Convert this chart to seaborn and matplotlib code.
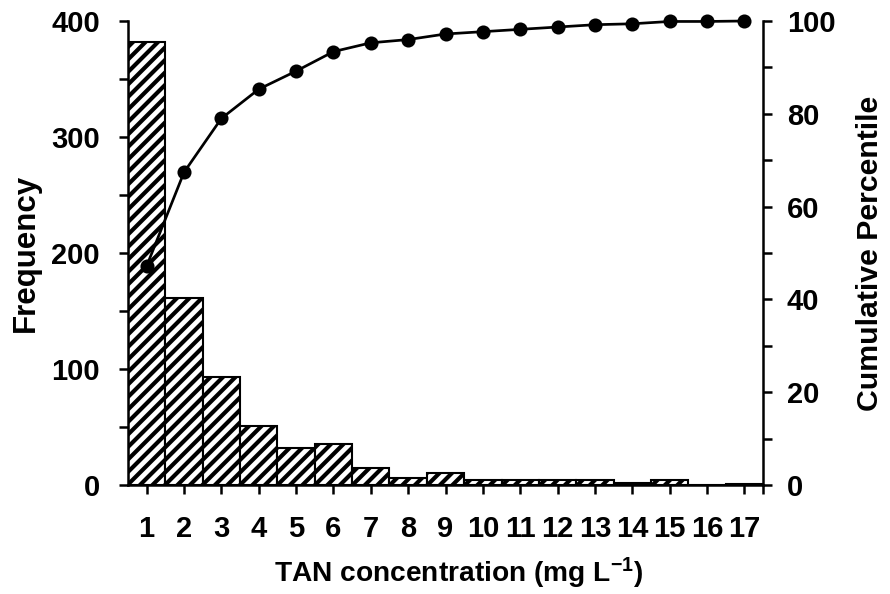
import numpy as np
import pandas as pd
import matplotlib
matplotlib.use("Agg")
import matplotlib.pyplot as plt
from matplotlib.ticker import MultipleLocator
import seaborn as sns

# データ
concentration = [str(i) for i in range(1, 18)]
frequency = [382, 161, 93, 51, 32, 35, 15, 6, 10, 4, 4, 4, 4, 2, 4, 0, 1]
cumulative_pct = [47.2, 67.4, 79.0, 85.3, 89.2, 93.4, 95.3, 96.0, 97.2,
                  97.7, 98.2, 98.7, 99.2, 99.4, 99.9, 99.9, 100.0]

df = pd.DataFrame({'conc': concentration, 'freq': frequency, 'cum': cumulative_pct})
df['pos'] = np.arange(len(df))

sns.set_style('ticks')
plt.rcParams['font.family'] = ['Liberation Sans', 'DejaVu Sans']
plt.rcParams['font.weight'] = 'bold'
plt.rcParams['mathtext.fontset'] = 'custom'
plt.rcParams['mathtext.rm'] = 'Liberation Sans:bold'
plt.rcParams['mathtext.bf'] = 'Liberation Sans:bold'
plt.rcParams['mathtext.default'] = 'bf'
plt.rcParams['hatch.linewidth'] = 2.0
plt.rcParams['hatch.color'] = 'black'
for k in ['text.color', 'axes.labelcolor', 'xtick.color', 'ytick.color', 'axes.edgecolor']:
    plt.rcParams[k] = 'black'

fig, ax = plt.subplots(figsize=(890 / 150, 594 / 150), dpi=150)
fig.subplots_adjust(left=128 / 890, right=763 / 890, bottom=1 - 485 / 594, top=1 - 21 / 594)

# --- ヒストグラム (斜線の棒) ---
sns.barplot(data=df, x='conc', y='freq', color='white', edgecolor='black',
            hatch='////', width=1.0, linewidth=1.0, ax=ax, saturation=1)

ax.set_xlim(-0.5, len(df) - 0.5)
ax.set_ylim(0, 400)
ax.yaxis.set_major_locator(MultipleLocator(100))
ax.yaxis.set_minor_locator(MultipleLocator(50))
ax.set_xticks([len(df) - 0.5], minor=True)
ax.set_xlabel('TAN concentration (mg L$^{-1}$)', fontsize=13.5, fontweight='bold')
ax.xaxis.set_label_coords(0.52, -0.152)
ax.set_ylabel('Frequency', fontsize=15, fontweight='bold', labelpad=5)
ax.tick_params(axis='both', which='both', direction='out', length=4.5, width=1.2, labelsize=14)
ax.tick_params(axis='x', pad=10)
ax.tick_params(axis='y', pad=9)
for lab in ax.get_xticklabels() + ax.get_yticklabels():
    lab.set_fontweight('bold')
for s in ['top', 'right']:
    ax.spines[s].set_visible(False)
for s in ['left', 'bottom']:
    ax.spines[s].set_linewidth(1.2)

# --- 累積パーセンタイル (右軸) ---
ax2 = ax.twinx()
sns.lineplot(data=df, x='pos', y='cum', ax=ax2, color='black', linewidth=1.3,
             marker='o', markersize=6.0, markeredgecolor='black', sort=False, clip_on=False)
ax2.set_xlim(-0.5, len(df) - 0.5)
ax2.set_ylim(0, 100)
ax2.yaxis.set_major_locator(MultipleLocator(20))
ax2.yaxis.set_minor_locator(MultipleLocator(10))
ax2.set_ylabel('Cumulative Percentile', fontsize=14.5, fontweight='bold', labelpad=10)
ax2.set_xlabel('')
ax2.tick_params(axis='y', which='both', direction='out', length=4.5, width=1.2, labelsize=14, pad=7)
for lab in ax2.get_yticklabels():
    lab.set_fontweight('bold')
for s in ['top', 'left', 'bottom']:
    ax2.spines[s].set_visible(False)
ax2.spines['right'].set_linewidth(1.2)

fig.savefig('out.png', dpi=150)
